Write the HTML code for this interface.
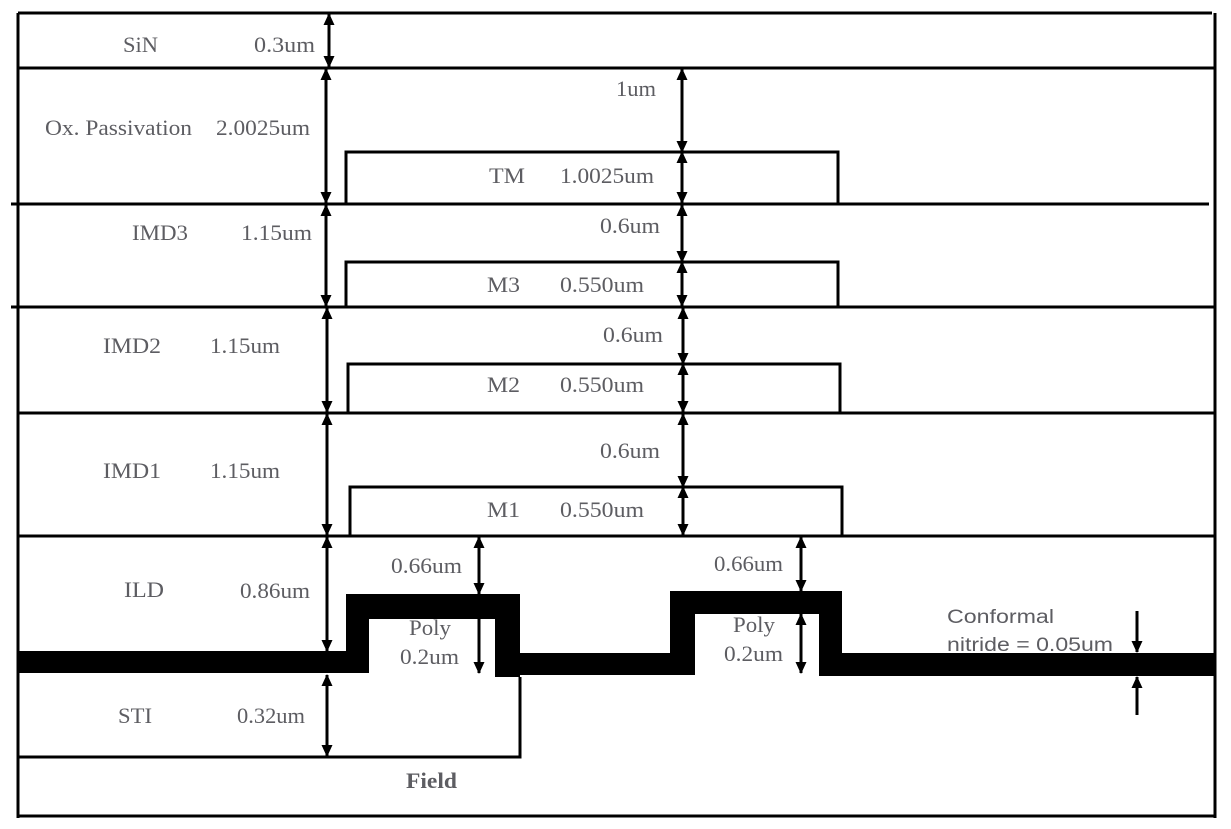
<!DOCTYPE html>
<html><head><meta charset="utf-8"><style>
html,body{margin:0;padding:0;background:#fff;}
svg{display:block;}
.t{font-family:"Liberation Serif",serif;font-size:22px;fill:#5d5d62;}
.a{font-family:"Liberation Sans",sans-serif;font-size:19px;fill:#5d5d62;}
</style></head><body>
<svg width="1231" height="829" viewBox="0 0 1231 829" xmlns="http://www.w3.org/2000/svg">
<defs>
<marker id="h" markerWidth="12" markerHeight="12" refX="11" refY="6" orient="auto-start-reverse" markerUnits="userSpaceOnUse">
<path d="M0,0.5 L12,6 L0,11.5 z" fill="#000"/></marker>
</defs>
<g stroke="#000" stroke-width="3" fill="none">
<line x1="18" y1="13" x2="1212" y2="13"/>
<line x1="1215" y1="13" x2="1215" y2="818"/>
<line x1="18" y1="13" x2="18" y2="818"/>
<line x1="18" y1="68" x2="1215" y2="68"/>
<line x1="11" y1="204" x2="1209" y2="204"/>
<line x1="11" y1="307" x2="1215" y2="307"/>
<line x1="18" y1="413" x2="1215" y2="413"/>
<line x1="18" y1="536" x2="1215" y2="536"/>
<line x1="18" y1="816" x2="1215" y2="816"/>
<path d="M346,204 V152 H838 V204"/>
<path d="M346,307 V262 H838 V307"/>
<path d="M348,413 V364 H840 V413"/>
<path d="M350,536 V487 H842 V536"/>
<path d="M520,677 V757 H18"/>
</g>
<g fill="#000">
<rect x="18" y="651" width="330" height="22"/>
<rect x="369" y="594" width="151" height="25"/>
<rect x="346" y="594" width="23" height="79"/>
<rect x="495" y="594" width="25" height="83"/>
<rect x="520" y="653" width="150" height="22"/>
<rect x="670" y="591" width="172" height="23"/>
<rect x="670" y="591" width="25" height="84"/>
<rect x="819" y="591" width="23" height="85"/>
<rect x="842" y="653" width="373" height="23"/>
</g>
<g stroke="#000" stroke-width="3" marker-start="url(#h)" marker-end="url(#h)">
<line x1="329" y1="14" x2="329" y2="67"/>
<line x1="326" y1="69" x2="326" y2="203"/>
<line x1="326" y1="205" x2="326" y2="306"/>
<line x1="327" y1="308" x2="327" y2="412"/>
<line x1="327" y1="414" x2="327" y2="535"/>
<line x1="327" y1="537" x2="327" y2="651"/>
<line x1="327" y1="675" x2="327" y2="756"/>
<line x1="682" y1="69" x2="682" y2="152"/>
<line x1="682" y1="152" x2="682" y2="203"/>
<line x1="682" y1="205" x2="682" y2="262"/>
<line x1="682" y1="262" x2="682" y2="306"/>
<line x1="683" y1="308" x2="683" y2="364"/>
<line x1="683" y1="364" x2="683" y2="412"/>
<line x1="683" y1="414" x2="683" y2="487"/>
<line x1="683" y1="487" x2="683" y2="535"/>
<line x1="479" y1="537" x2="479" y2="594"/>
<line x1="479" y1="596" x2="479" y2="673"/>
<line x1="801" y1="537" x2="801" y2="591"/>
<line x1="801" y1="614" x2="801" y2="673"/>
</g>
<g stroke="#000" stroke-width="3">
<line x1="1137" y1="611" x2="1137" y2="652" marker-end="url(#h)"/>
<line x1="1137" y1="715" x2="1137" y2="677" marker-end="url(#h)"/>
</g>
<g class="t" lengthAdjust="spacingAndGlyphs">
<text x="123" y="52" textLength="35" lengthAdjust="spacingAndGlyphs">SiN</text>
<text x="254" y="52" textLength="61" lengthAdjust="spacingAndGlyphs">0.3um</text>
<text x="45" y="135" textLength="147" lengthAdjust="spacingAndGlyphs">Ox. Passivation</text>
<text x="216" y="135" textLength="94" lengthAdjust="spacingAndGlyphs">2.0025um</text>
<text x="616" y="96" textLength="40" lengthAdjust="spacingAndGlyphs">1um</text>
<text x="489" y="183" textLength="36" lengthAdjust="spacingAndGlyphs">TM</text>
<text x="560" y="183" textLength="94" lengthAdjust="spacingAndGlyphs">1.0025um</text>
<text x="132" y="240" textLength="56" lengthAdjust="spacingAndGlyphs">IMD3</text>
<text x="241" y="240" textLength="71" lengthAdjust="spacingAndGlyphs">1.15um</text>
<text x="600" y="233" textLength="60" lengthAdjust="spacingAndGlyphs">0.6um</text>
<text x="487" y="292" textLength="33" lengthAdjust="spacingAndGlyphs">M3</text>
<text x="560" y="292" textLength="84" lengthAdjust="spacingAndGlyphs">0.550um</text>
<text x="103" y="353" textLength="58" lengthAdjust="spacingAndGlyphs">IMD2</text>
<text x="210" y="353" textLength="70" lengthAdjust="spacingAndGlyphs">1.15um</text>
<text x="603" y="342" textLength="60" lengthAdjust="spacingAndGlyphs">0.6um</text>
<text x="487" y="392" textLength="33" lengthAdjust="spacingAndGlyphs">M2</text>
<text x="560" y="392" textLength="84" lengthAdjust="spacingAndGlyphs">0.550um</text>
<text x="103" y="478" textLength="58" lengthAdjust="spacingAndGlyphs">IMD1</text>
<text x="210" y="478" textLength="70" lengthAdjust="spacingAndGlyphs">1.15um</text>
<text x="600" y="458" textLength="60" lengthAdjust="spacingAndGlyphs">0.6um</text>
<text x="487" y="517" textLength="33" lengthAdjust="spacingAndGlyphs">M1</text>
<text x="560" y="517" textLength="84" lengthAdjust="spacingAndGlyphs">0.550um</text>
<text x="124" y="597" textLength="40" lengthAdjust="spacingAndGlyphs">ILD</text>
<text x="240" y="598" textLength="70" lengthAdjust="spacingAndGlyphs">0.86um</text>
<text x="391" y="573" textLength="71" lengthAdjust="spacingAndGlyphs">0.66um</text>
<text x="714" y="571" textLength="69" lengthAdjust="spacingAndGlyphs">0.66um</text>
<text x="409" y="635" textLength="42" lengthAdjust="spacingAndGlyphs">Poly</text>
<text x="400" y="664" textLength="59" lengthAdjust="spacingAndGlyphs">0.2um</text>
<text x="733" y="632" textLength="42" lengthAdjust="spacingAndGlyphs">Poly</text>
<text x="724" y="661" textLength="59" lengthAdjust="spacingAndGlyphs">0.2um</text>
<text x="118" y="723" textLength="34" lengthAdjust="spacingAndGlyphs">STI</text>
<text x="237" y="723" textLength="68" lengthAdjust="spacingAndGlyphs">0.32um</text>
<text x="406" y="788" textLength="51" lengthAdjust="spacingAndGlyphs" font-weight="bold">Field</text>
</g>
<g class="a">
<text x="947" y="623" textLength="107" lengthAdjust="spacingAndGlyphs">Conformal</text>
<text x="947" y="651" textLength="166" lengthAdjust="spacingAndGlyphs">nitride = 0.05um</text>
</g>
</svg>
</body></html>
